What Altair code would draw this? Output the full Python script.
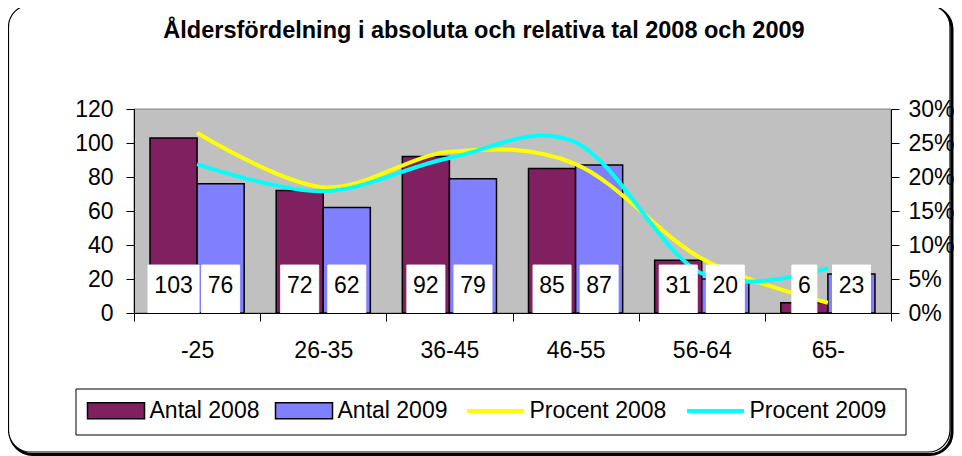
import altair as alt
import pandas as pd

categories = ["-25", "26-35", "36-45", "46-55", "56-64", "65-"]
antal_2008 = [103, 72, 92, 85, 31, 6]
antal_2009 = [76, 62, 79, 87, 20, 23]
procent_2008 = [26.5, 18.5, 23.7, 21.9, 8.0, 1.5]
procent_2009 = [21.9, 17.9, 22.8, 25.1, 5.8, 6.6]

bar_names = ["Antal 2008", "Antal 2009"]
bar_colors = ["#802060", "#8080FF"]
line_names = ["Procent 2008", "Procent 2009"]
line_colors = ["#FFFF00", "#00FFFF"]

FONT = "Liberation Sans"
W, H = 757, 204

rows = []
for c, a, b in zip(categories, antal_2008, antal_2009):
    rows.append({"cat": c, "series": "Antal 2008", "value": a, "w": 12 + 13 * len(str(a))})
    rows.append({"cat": c, "series": "Antal 2009", "value": b, "w": 12 + 13 * len(str(b))})
bars_df = pd.DataFrame(rows)

lrows = []
for c, p, q in zip(categories, procent_2008, procent_2009):
    lrows.append({"cat": c, "series": "Procent 2008", "pct": p / 100})
    lrows.append({"cat": c, "series": "Procent 2009", "pct": q / 100})
lines_df = pd.DataFrame(lrows)

common_leg = dict(orient="none", direction="horizontal", title=None, padding=0,
                  labelFontSize=23, labelFont=FONT, labelColor="black",
                  symbolSize=400, symbolOffset=18.5, labelOffset=22, columnPadding=12)
fill_legend = alt.Legend(legendX=-48, legendY=290, symbolType="M-2.85,-0.8H2.85V0.8H-2.85Z",
                         symbolStrokeColor="black", symbolStrokeWidth=1.5, **common_leg)
stroke_legend = alt.Legend(legendX=331, legendY=290, symbolType="M-2.85,0H2.85",
                           symbolStrokeWidth=4, **common_leg)

xenc = alt.X("cat:N", sort=categories, scale=alt.Scale(paddingInner=0, paddingOuter=0),
             axis=alt.Axis(title=None, labelAngle=0, tickBand="extent", tickSize=8,
                           labelPadding=18, labelFontSize=23, labelFont=FONT, labelColor="black",
                           domainColor="black", tickColor="black", zindex=1))
xoff = alt.XOffset("series:N", sort=bar_names,
                   scale=alt.Scale(paddingInner=0, paddingOuter=0.34))

one = pd.DataFrame({"a": [0]})
shadow = alt.Chart(one).mark_rect(cornerRadius=22, fill="white", stroke="black", strokeWidth=3).encode(
    x=alt.value(-123.5), x2=alt.value(818), y=alt.value(-102), y2=alt.value(345.5))
frame = alt.Chart(one).mark_rect(cornerRadius=22, fill="white", stroke="black", strokeWidth=1.2).encode(
    x=alt.value(-125.5), x2=alt.value(816), y=alt.value(-104), y2=alt.value(343))
legbox = alt.Chart(one).mark_rect(fill="white", stroke="black", strokeWidth=1).encode(
    x=alt.value(-58), x2=alt.value(772), y=alt.value(280), y2=alt.value(326))
plotbg = alt.Chart(one).mark_rect(fill="#C0C0C0", stroke="#808080", strokeWidth=1).encode(
    x=alt.value(0), x2=alt.value(W), y=alt.value(0), y2=alt.value(H))

yaxis = alt.Axis(title=None, values=[0, 20, 40, 60, 80, 100, 120], grid=False,
                 labelOverlap=False, tickCount=7,
                 tickSize=8, labelPadding=13, labelFontSize=23, labelFont=FONT,
                 labelColor="black", domainColor="black", tickColor="black", zindex=1)

bars = alt.Chart(bars_df).mark_bar(stroke="black", strokeWidth=1.5).encode(
    x=xenc, xOffset=xoff,
    y=alt.Y("value:Q", scale=alt.Scale(domain=[0, 120], nice=False), axis=yaxis),
    fill=alt.Fill("series:N", scale=alt.Scale(domain=bar_names, range=bar_colors), legend=fill_legend))

lscale = alt.Scale(domain=[0, 120], nice=False)
boxes = alt.Chart(bars_df).mark_bar(fill="white", stroke="white").encode(
    x=xenc, xOffset=xoff, y=alt.YDatum(0, scale=lscale, axis=None), y2=alt.Y2Datum(28.2),
    size=alt.Size("w:Q", scale=None, legend=None))
texts = alt.Chart(bars_df).mark_text(fontSize=23, font=FONT, color="black", baseline="alphabetic").encode(
    x=xenc, xOffset=xoff, y=alt.YDatum(11.8, scale=lscale, axis=None), text="value:Q")
labels = alt.layer(boxes, texts)

lines = alt.Chart(lines_df).mark_line(strokeWidth=4, interpolate="cardinal").encode(
    x=xenc,
    y=alt.Y("pct:Q", scale=alt.Scale(domain=[0, 0.3], nice=False),
            axis=alt.Axis(title=None, orient="right", format=".0%",
                          values=[0, 0.05, 0.1, 0.15, 0.2, 0.25, 0.3], grid=False,
                          labelOverlap=False,
                          tickSize=8, labelPadding=9, labelFontSize=23, labelFont=FONT,
                          labelColor="black", domainColor="black", tickColor="black", zindex=1)),
    stroke=alt.Stroke("series:N", scale=alt.Scale(domain=line_names, range=line_colors),
                      legend=stroke_legend))

chart = alt.layer(shadow, frame, legbox, plotbg, bars, lines, labels).resolve_scale(y="independent").properties(
    width=W, height=H,
    padding={"left": 126, "top": 101, "right": 63, "bottom": 143},
    autosize=alt.AutoSizeParams(type="none"),
    title=alt.Title("Åldersfördelning i absoluta och relativa tal 2008 och 2009",
                    fontSize=23.5, fontWeight="bold", font=FONT, color="black",
                    offset=0, dy=57.6, baseline="alphabetic", frame="bounds", anchor="middle", dx=3),
).configure_view(strokeWidth=0)

chart.save("out.html", embed_options={"renderer": "svg", "actions": False})
